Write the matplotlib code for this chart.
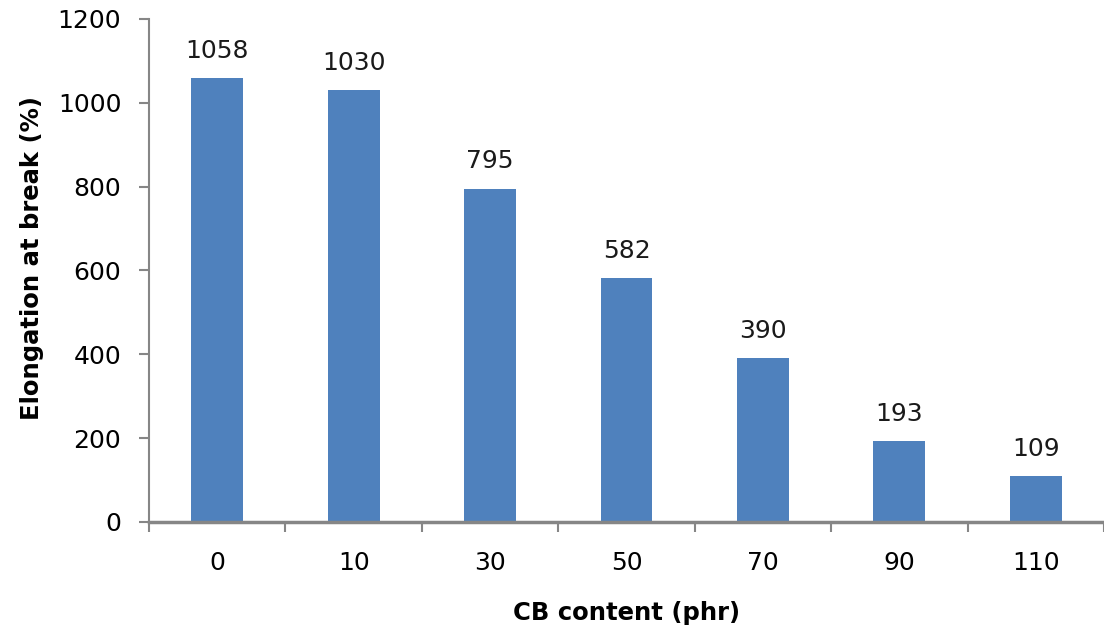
import numpy as np
import matplotlib.pyplot as plt
from matplotlib.ticker import FixedLocator

# CB loading (phr) and elongation at break (%)
cb_content = ['0', '10', '30', '50', '70', '90', '110']
elongation = [1058, 1030, 795, 582, 390, 193, 109]

bar_color = '#4f81bd'
axis_color = '#868686'

fig = plt.figure(figsize=(11.04, 6.31), dpi=100)
ax = fig.add_axes([0.135, 0.173, 0.865, 0.797])

x = np.arange(len(cb_content))
bars = ax.bar(x, elongation, width=0.38, color=bar_color, zorder=2)

for b, v in zip(bars, elongation):
    ax.annotate(str(v), (b.get_x() + b.get_width() / 2, v),
                xytext=(0, 11), textcoords='offset points',
                ha='center', va='bottom', fontsize=18, color='#1a1a1a')

ax.set_xlim(-0.5, len(cb_content) - 0.5)
ax.set_ylim(0, 1200)
ax.set_yticks(np.arange(0, 1201, 200))
ax.set_xticks(x)
ax.set_xticklabels(cb_content)

# category separators on the x axis, excel style
ax.xaxis.set_minor_locator(FixedLocator(np.arange(-0.5, len(cb_content), 1.0)))
ax.tick_params(axis='x', which='major', length=0, pad=21, labelsize=18)
ax.tick_params(axis='x', which='minor', length=7, width=1.5, color=axis_color, direction='out')
ax.tick_params(axis='y', length=7, width=1.5, color=axis_color, direction='out',
               labelsize=18, pad=13)

for side in ['top', 'right']:
    ax.spines[side].set_visible(False)
for side in ['left', 'bottom']:
    ax.spines[side].set_color(axis_color)
    ax.spines[side].set_linewidth(1.5)
ax.spines['bottom'].set_linewidth(2.5)

ax.set_ylabel('Elongation at break (%)', fontsize=17.5, fontweight='bold', labelpad=10, y=0.525)
ax.set_xlabel('CB content (phr)', fontsize=17.5, fontweight='bold', labelpad=19)

plt.savefig('out.png', dpi=100)
